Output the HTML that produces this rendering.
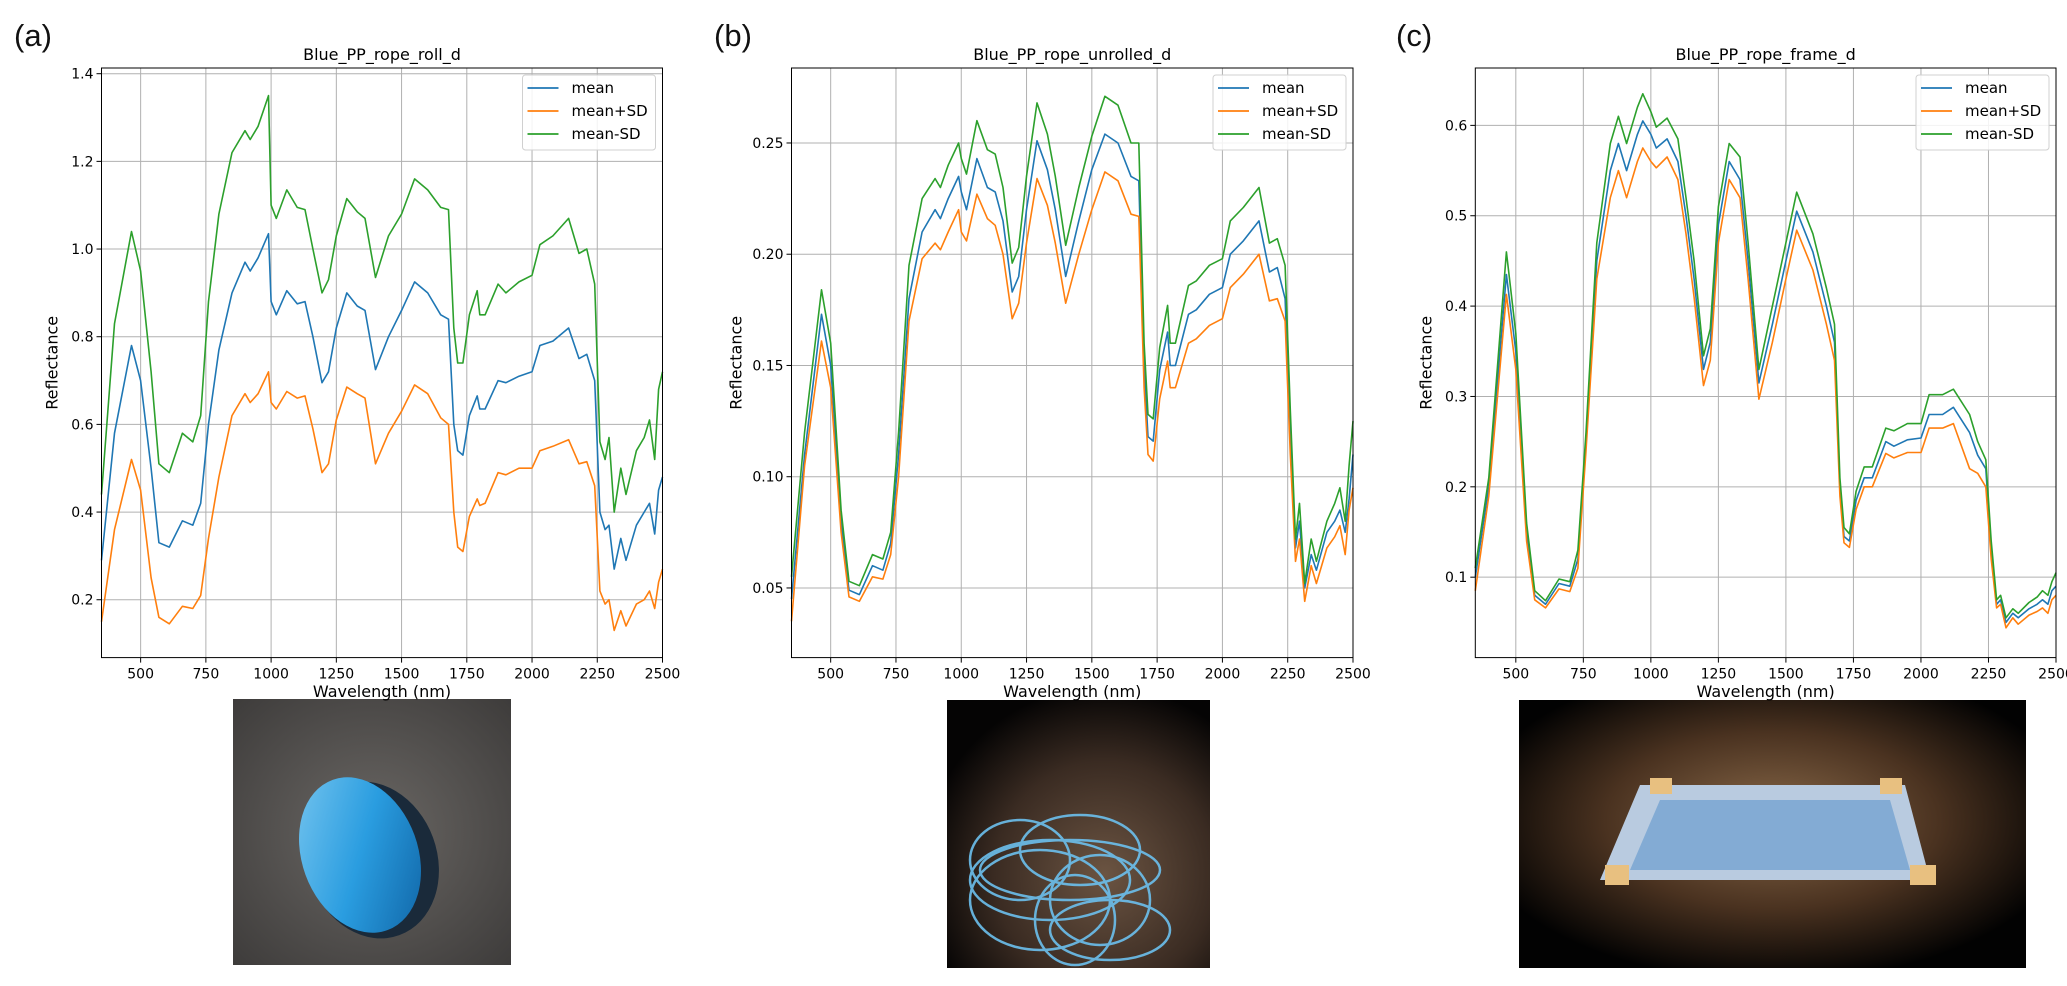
<!DOCTYPE html>
<html><head><meta charset="utf-8">
<style>
body{margin:0;background:#fff;}
svg{display:block;font-family:"DejaVu Sans","Liberation Sans",sans-serif;}
</style></head>
<body>
<svg id="fig" width="2067" height="986" viewBox="0 0 2067 986" xmlns="http://www.w3.org/2000/svg">
<defs>
<radialGradient id="gA" cx="0.5" cy="0.5" r="0.7"><stop offset="0" stop-color="#6a6764"/><stop offset="1" stop-color="#3e3c3b"/></radialGradient>
<radialGradient id="gB" cx="0.6" cy="0.65" r="0.7"><stop offset="0" stop-color="#6b5442"/><stop offset="0.6" stop-color="#3a2b22"/><stop offset="1" stop-color="#050404"/></radialGradient>
<radialGradient id="gC" cx="0.5" cy="0.45" r="0.6"><stop offset="0" stop-color="#8a6a4a"/><stop offset="0.55" stop-color="#4a3220"/><stop offset="1" stop-color="#020202"/></radialGradient>
<linearGradient id="gRope" x1="0" y1="0" x2="1" y2="1"><stop offset="0" stop-color="#7cc8f0"/><stop offset="0.5" stop-color="#2a9de0"/><stop offset="1" stop-color="#0d5fa0"/></linearGradient>
</defs>
<g id="photos">
<rect x="233" y="699" width="278" height="266" fill="url(#gA)"/>
<ellipse cx="372" cy="860" rx="65" ry="80" fill="#1a2a3a" transform="rotate(-20 372 860)"/>
<ellipse cx="360" cy="855" rx="58" ry="80" fill="url(#gRope)" transform="rotate(-20 360 855)"/>
<rect x="947" y="700" width="263" height="268" fill="url(#gB)"/>
<g fill="none" stroke="#6cc0ee" stroke-width="2.5" opacity="0.9">
<ellipse cx="1050" cy="880" rx="80" ry="40"/><ellipse cx="1080" cy="850" rx="60" ry="35"/><ellipse cx="1040" cy="900" rx="70" ry="50"/><ellipse cx="1100" cy="900" rx="50" ry="45"/><ellipse cx="1070" cy="870" rx="90" ry="30"/><ellipse cx="1020" cy="860" rx="50" ry="40"/><ellipse cx="1110" cy="930" rx="60" ry="30"/><ellipse cx="1075" cy="920" rx="40" ry="45"/>
</g>
<rect x="1519" y="700" width="507" height="268" fill="url(#gC)"/>
<polygon points="1640,785 1905,785 1930,880 1600,880" fill="#b9cbe0"/>
<polygon points="1660,800 1890,800 1910,870 1630,870" fill="#5f96cc" opacity="0.6"/>
<rect x="1650" y="778" width="22" height="16" fill="#e8c080"/><rect x="1880" y="778" width="22" height="16" fill="#e8c080"/>
<rect x="1605" y="865" width="24" height="20" fill="#e8c080"/><rect x="1910" y="865" width="26" height="20" fill="#e8c080"/>
</g>
</svg>
<script>
const wlA=[350,400,465,500,540,570,610,660,700,730,760,800,850,900,920,950,990,1000,1020,1060,1100,1130,1160,1195,1220,1250,1290,1330,1360,1400,1450,1500,1550,1600,1650,1680,1700,1715,1735,1760,1790,1800,1820,1870,1900,1950,2000,2030,2080,2140,2180,2210,2240,2260,2280,2295,2315,2340,2360,2400,2430,2450,2470,2485,2500];
const wlC=[350,400,465,500,540,570,610,660,700,730,760,800,850,880,910,950,970,1000,1020,1060,1100,1130,1160,1195,1220,1250,1290,1330,1360,1400,1450,1500,1540,1600,1650,1680,1700,1715,1735,1760,1790,1800,1820,1870,1900,1950,2000,2030,2080,2120,2180,2210,2240,2260,2280,2295,2315,2340,2360,2400,2430,2450,2470,2485,2500];
const aMean=[0.29,0.58,0.78,0.70,0.50,0.33,0.32,0.38,0.37,0.42,0.60,0.77,0.90,0.97,0.95,0.98,1.035,0.88,0.85,0.905,0.875,0.88,0.80,0.695,0.72,0.82,0.90,0.87,0.86,0.725,0.80,0.86,0.925,0.90,0.85,0.84,0.60,0.54,0.53,0.62,0.665,0.635,0.635,0.70,0.695,0.71,0.72,0.78,0.79,0.82,0.75,0.76,0.70,0.40,0.36,0.37,0.27,0.34,0.29,0.37,0.40,0.42,0.35,0.45,0.48];
const aPlus=[0.15,0.36,0.52,0.45,0.25,0.16,0.145,0.185,0.18,0.21,0.34,0.48,0.62,0.67,0.65,0.67,0.72,0.65,0.635,0.675,0.66,0.665,0.59,0.49,0.51,0.61,0.685,0.67,0.66,0.51,0.58,0.63,0.69,0.67,0.615,0.60,0.40,0.32,0.31,0.39,0.43,0.415,0.42,0.49,0.485,0.50,0.50,0.54,0.55,0.565,0.51,0.515,0.46,0.22,0.19,0.20,0.13,0.175,0.14,0.19,0.20,0.22,0.18,0.24,0.27];
const aMinus=[0.44,0.83,1.04,0.95,0.72,0.51,0.49,0.58,0.56,0.62,0.88,1.08,1.22,1.27,1.25,1.28,1.35,1.10,1.07,1.135,1.095,1.09,1.00,0.90,0.93,1.03,1.115,1.085,1.07,0.935,1.03,1.08,1.16,1.135,1.095,1.09,0.82,0.74,0.74,0.85,0.905,0.85,0.85,0.92,0.90,0.925,0.94,1.01,1.03,1.07,0.99,1.00,0.92,0.56,0.52,0.57,0.40,0.50,0.44,0.54,0.57,0.61,0.52,0.68,0.72];
const bMean=[0.045,0.11,0.173,0.15,0.08,0.049,0.047,0.06,0.058,0.07,0.11,0.18,0.21,0.22,0.216,0.225,0.235,0.228,0.22,0.243,0.23,0.228,0.215,0.183,0.19,0.22,0.251,0.238,0.22,0.19,0.215,0.238,0.254,0.25,0.235,0.233,0.15,0.118,0.116,0.148,0.165,0.15,0.15,0.173,0.175,0.182,0.185,0.2,0.206,0.215,0.192,0.194,0.18,0.12,0.068,0.08,0.05,0.065,0.058,0.075,0.08,0.085,0.075,0.09,0.11];
const bPlus=[0.035,0.105,0.161,0.14,0.075,0.046,0.044,0.055,0.054,0.065,0.10,0.17,0.198,0.205,0.202,0.21,0.22,0.21,0.206,0.227,0.216,0.213,0.20,0.171,0.178,0.205,0.234,0.222,0.205,0.178,0.20,0.22,0.237,0.233,0.218,0.217,0.14,0.11,0.107,0.135,0.152,0.14,0.14,0.16,0.162,0.168,0.171,0.185,0.191,0.200,0.179,0.18,0.17,0.11,0.062,0.072,0.044,0.06,0.052,0.068,0.073,0.078,0.065,0.085,0.095];
const bMinus=[0.055,0.12,0.184,0.16,0.085,0.053,0.051,0.065,0.063,0.075,0.12,0.195,0.225,0.234,0.23,0.24,0.25,0.243,0.236,0.26,0.247,0.245,0.23,0.196,0.203,0.235,0.268,0.254,0.235,0.204,0.23,0.253,0.271,0.267,0.25,0.25,0.16,0.128,0.126,0.158,0.177,0.16,0.16,0.186,0.188,0.195,0.198,0.215,0.221,0.230,0.205,0.207,0.195,0.13,0.072,0.088,0.052,0.072,0.062,0.08,0.088,0.095,0.08,0.105,0.125];
const cMean=[0.10,0.20,0.435,0.35,0.15,0.08,0.07,0.093,0.09,0.12,0.25,0.45,0.55,0.58,0.55,0.59,0.605,0.59,0.575,0.585,0.56,0.50,0.43,0.33,0.36,0.49,0.56,0.54,0.45,0.315,0.38,0.45,0.505,0.46,0.40,0.36,0.20,0.145,0.14,0.185,0.21,0.21,0.21,0.25,0.245,0.252,0.254,0.28,0.28,0.288,0.26,0.235,0.22,0.13,0.07,0.075,0.05,0.06,0.055,0.065,0.07,0.075,0.07,0.085,0.09];
const cPlus=[0.085,0.19,0.413,0.33,0.14,0.075,0.066,0.087,0.084,0.11,0.24,0.43,0.52,0.55,0.52,0.56,0.575,0.56,0.553,0.565,0.54,0.48,0.41,0.312,0.34,0.47,0.54,0.52,0.43,0.297,0.36,0.43,0.484,0.44,0.38,0.34,0.19,0.138,0.133,0.175,0.20,0.20,0.2,0.237,0.232,0.238,0.238,0.265,0.265,0.27,0.22,0.215,0.2,0.12,0.066,0.07,0.044,0.055,0.048,0.058,0.062,0.066,0.06,0.075,0.08];
const cMinus=[0.11,0.21,0.46,0.37,0.16,0.085,0.074,0.098,0.095,0.13,0.26,0.47,0.58,0.61,0.58,0.62,0.635,0.615,0.598,0.608,0.585,0.52,0.45,0.345,0.375,0.51,0.58,0.565,0.47,0.33,0.40,0.47,0.526,0.48,0.42,0.38,0.21,0.155,0.148,0.195,0.222,0.222,0.222,0.265,0.262,0.27,0.27,0.302,0.302,0.308,0.28,0.25,0.23,0.14,0.075,0.08,0.055,0.065,0.06,0.072,0.078,0.085,0.08,0.095,0.105];
const xTicks=[500,750,1000,1250,1500,1750,2000,2250,2500];
const aYTicks=[0.2,0.4,0.6,0.8,1.0,1.2,1.4];
const bYTicks=[0.05,0.10,0.15,0.20,0.25];
const cYTicks=[0.1,0.2,0.3,0.4,0.5,0.6];
const legendLabels=['mean','mean+SD','mean-SD'];
const colors=['#1f77b4','#ff7f0e','#2ca02c'];

const NS='http://www.w3.org/2000/svg';
const svg=document.getElementById('fig');
function mk(tag,attrs,parent){const e=document.createElementNS(NS,tag);for(const k in attrs)e.setAttribute(k,attrs[k]);(parent||svg).appendChild(e);return e;}

const panels=[
 {id:'a',title:'Blue_PP_rope_roll_d',L:101.5,R:662.5,T:68,B:657.6,ymin:0.068,ymax:1.413,wl:wlA,series:[aMean,aPlus,aMinus],yt:aYTicks,dec:1,lab:'(a)',labX:14,tx:101.5-6},
 {id:'b',title:'Blue_PP_rope_unrolled_d',L:791.5,R:1353,T:68,B:657.6,ymin:0.0187,ymax:0.2837,wl:wlA,series:[bMean,bPlus,bMinus],yt:bYTicks,dec:2,lab:'(b)',labX:714},
 {id:'c',title:'Blue_PP_rope_frame_d',L:1475.3,R:2056,T:68,B:657.6,ymin:0.011,ymax:0.6635,wl:wlC,series:[cMean,cPlus,cMinus],yt:cYTicks,dec:1,lab:'(c)',labX:1396}
];
panels.forEach(p=>{
 const g=mk('g',{});
 
 
 const xs=v=>p.L+(v-350)/(2500-350)*(p.R-p.L);
 const ys=v=>p.B-(v-p.ymin)/(p.ymax-p.ymin)*(p.B-p.T);
 const pl=mk('text',{x:p.labX,y:46,'font-size':31,fill:'#111','font-family':'Liberation Sans, sans-serif'},g);pl.textContent=p.lab;
 
 
 xTicks.forEach(t=>{const x=xs(t);
  mk('line',{x1:x,x2:x,y1:p.T,y2:p.B,stroke:'#b0b0b0','stroke-width':1},g);
  mk('line',{x1:x,x2:x,y1:p.B,y2:p.B+5,stroke:'#000','stroke-width':1},g);
  const tx=mk('text',{x:x,y:p.B+21,'font-size':14,'text-anchor':'middle',fill:'#000'},g);tx.textContent=t;
  
  
 });
 p.yt.forEach(t=>{const y=ys(t);
  mk('line',{x1:p.L,x2:p.R,y1:y,y2:y,stroke:'#b0b0b0','stroke-width':1},g);
  mk('line',{x1:p.L-5,x2:p.L,y1:y,y2:y,stroke:'#000','stroke-width':1},g);
  const ty=mk('text',{x:p.L-8,y:y+5,'font-size':14,'text-anchor':'end',fill:'#000'},g);ty.textContent=t.toFixed(p.dec);
  
  
 });
 p.series.forEach((s,i)=>{
  const d=s.map((v,j)=>(j?'L':'M')+xs(p.wl[j]).toFixed(1)+','+ys(v).toFixed(1)).join(' ');
  const path=mk('path',{d:d,fill:'none',stroke:colors[i],'stroke-width':1.6,'stroke-linejoin':'round'},g);
  
  
 });
 mk('rect',{x:p.L,y:p.T,width:p.R-p.L,height:p.B-p.T,fill:'none',stroke:'#000','stroke-width':1},g);
 const ti=mk('text',{x:(p.L+p.R)/2,y:60,'font-size':16,'text-anchor':'middle',fill:'#000'},g);ti.textContent=p.title;
 
 
 const xl=mk('text',{x:(p.L+p.R)/2,y:697,'font-size':16,'text-anchor':'middle',fill:'#000'},g);xl.textContent='Wavelength (nm)';
 
 
 const yx=p.L-(p.dec==2?50:44);
 const yl=mk('text',{x:yx,y:(p.T+p.B)/2,'font-size':16,'text-anchor':'middle',fill:'#000',transform:'rotate(-90 '+yx+' '+(p.T+p.B)/2+')'},g);yl.textContent='Reflectance';
 
 
 const lg=mk('g',{},g);
 
 
 const lx=p.R-140;
 mk('rect',{x:lx,y:75,width:133,height:75,rx:3,fill:'#fff','fill-opacity':0.85,stroke:'#d0d0d0'},lg);
 legendLabels.forEach((lab,i)=>{const y=88+i*23;
  mk('line',{x1:lx+5,x2:lx+36,y1:y,y2:y,stroke:colors[i],'stroke-width':1.8},lg);
  const lt=mk('text',{x:lx+49,y:y+5,'font-size':15,fill:'#000'},lg);lt.textContent=lab;
  
  
 });
});
</script>
</body></html>
